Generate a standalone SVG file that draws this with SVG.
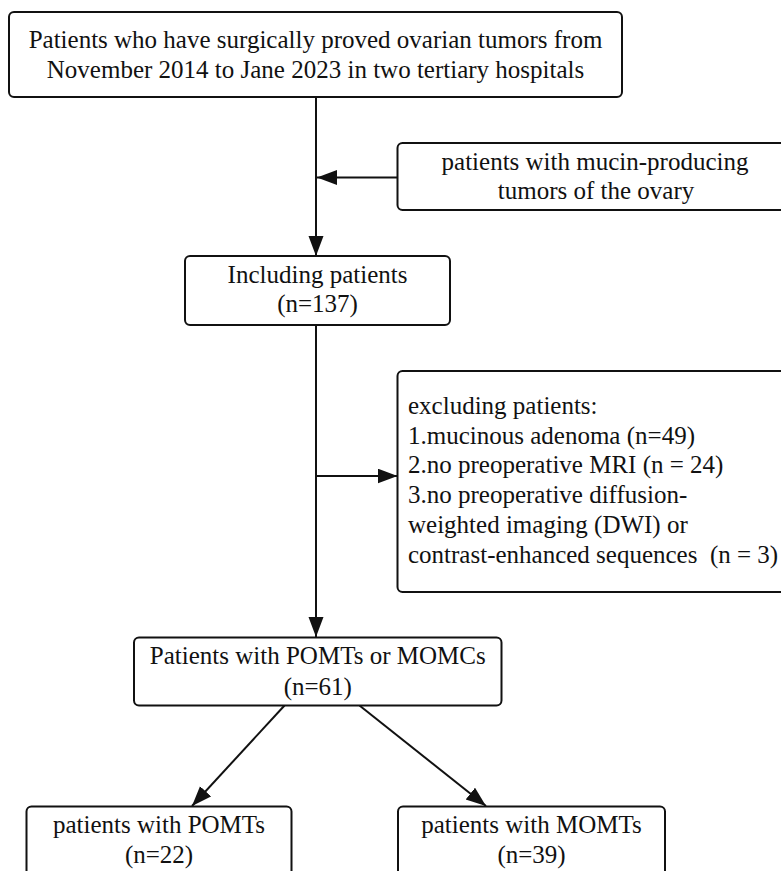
<svg xmlns="http://www.w3.org/2000/svg" width="781" height="871" viewBox="0 0 781 871">
<defs>
<style>
.box{fill:#fff;stroke:#111;stroke-width:2}
.ln{fill:none;stroke:#111;stroke-width:2}
text{font-family:"Liberation Serif","Times New Roman",serif;font-size:25px;fill:#111}
.c{text-anchor:middle}
</style>
<marker id="ah" markerUnits="userSpaceOnUse" markerWidth="21" markerHeight="16" refX="20" refY="7.5" orient="auto">
<path d="M0,0 L20,7.5 L0,15 z" fill="#111"/>
</marker>
</defs>
<rect width="781" height="871" fill="#fff"/>
<g id="connectors">
<line class="ln" x1="316" y1="97" x2="316" y2="256" marker-end="url(#ah)"/>
<line class="ln" x1="397.5" y1="177.5" x2="317" y2="177.5" marker-end="url(#ah)"/>
<line class="ln" x1="316" y1="325" x2="316" y2="637" marker-end="url(#ah)"/>
<line class="ln" x1="316" y1="476" x2="397.5" y2="476" marker-end="url(#ah)"/>
<line class="ln" x1="284.5" y1="705.5" x2="192" y2="806" marker-end="url(#ah)"/>
<line class="ln" x1="359.5" y1="705.5" x2="486" y2="806" marker-end="url(#ah)"/>
</g>
<g id="n_all">
<rect class="box" x="9" y="12" width="613" height="85" rx="5"/>
<text class="c" x="315.5" y="48">Patients who have surgically proved ovarian tumors from</text>
<text class="c" x="315.5" y="78">November 2014 to Jane 2023 in two tertiary hospitals</text>
</g>
<g id="n_mucin">
<rect class="box" x="397.5" y="143" width="400" height="67" rx="5"/>
<text class="c" x="595" y="170">patients with mucin-producing</text>
<text class="c" x="596" y="199">tumors of the ovary</text>
</g>
<g id="n_incl">
<rect class="box" x="185" y="256" width="265" height="69" rx="5"/>
<text class="c" x="317.5" y="283">Including patients</text>
<text class="c" x="317.5" y="312">(n=137)</text>
</g>
<g id="n_excl">
<rect class="box" x="397.5" y="371" width="400" height="221" rx="5"/>
<text x="408" y="414">excluding patients:</text>
<text x="408" y="443.7">1.mucinous adenoma (n=49)</text>
<text x="408" y="473.4">2.no preoperative MRI (n = 24)</text>
<text x="408" y="503.1">3.no preoperative diffusion-</text>
<text x="408" y="532.8">weighted imaging (DWI) or</text>
<text x="408" y="562.5" xml:space="preserve">contrast-enhanced sequences  (n = 3)</text>
</g>
<g id="n_pm">
<rect class="box" x="134" y="637.5" width="367.5" height="68" rx="5"/>
<text class="c" x="317.75" y="664">Patients with POMTs or MOMCs</text>
<text class="c" x="317.75" y="695">(n=61)</text>
</g>
<g id="n_pomt">
<rect class="box" x="26.5" y="806.5" width="265" height="80" rx="5"/>
<text class="c" x="159" y="833.3">patients with POMTs</text>
<text class="c" x="159" y="863.3">(n=22)</text>
</g>
<g id="n_momt">
<rect class="box" x="398" y="806.5" width="267" height="80" rx="5"/>
<text class="c" x="531.5" y="833.3">patients with MOMTs</text>
<text class="c" x="531.5" y="863.3">(n=39)</text>
</g>
</svg>
